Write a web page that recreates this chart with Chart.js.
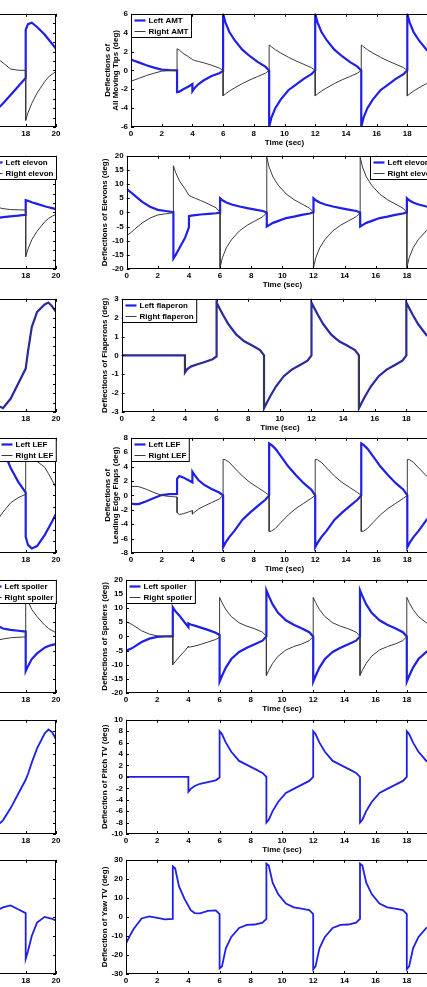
<!DOCTYPE html>
<html>
<head>
<meta charset="utf-8">
<script src="https://cdn.jsdelivr.net/npm/chart.js@4.4.1/dist/chart.umd.min.js"></script>
<style>
  html, body { margin: 0; padding: 0; background: #fff; }
  #fig { position: relative; width: 427px; height: 987px; overflow: hidden; background: #fff; }
  #fig canvas { position: absolute; }
</style>
</head>
<body>
<div id="fig"></div>
<script>
// sample times (s) for the right-hand column, jumps repeat the time
const tRight = [
  0, 0.25, 0.5, 1, 1.5, 2, 2.5, 3,
  3, 3.15, 3.4, 3.75, 4,
  4, 4.15, 4.4, 4.75, 5.25, 5.75, 6,
  6, 6.15, 6.4, 6.75, 7.25, 7.75, 8.25, 8.75, 9,
  9, 9.15, 9.4, 9.75, 10.25, 10.75, 11.25, 11.75, 12,
  12, 12.15, 12.4, 12.75, 13.25, 13.75, 14.25, 14.75, 15,
  15, 15.15, 15.4, 15.75, 16.25, 16.75, 17.25, 17.75, 18,
  18, 18.15, 18.4, 18.75, 19.25, 19.75, 20
];
// sample times for the (cropped) left-hand column
const tLeft = [15.5, 16, 16.5, 17, 17.5, 18, 18, 18.15, 18.4, 18.75, 19.25, 19.5, 19.75, 20];

// --- all moving tips
const amtLeft = [
  1.15, 1.0, 0.85, 0.55, 0.3, 0.08, 0.02, 0,
  -2.3, -2.25, -2.0, -1.7, -1.45,
  -2.2, -1.85, -1.45, -1.05, -0.6, -0.3, -0.05,
  6.0, 5.1, 4.1, 3.2, 2.2, 1.5, 0.9, 0.4, 0,
  -6.0, -5.0, -4.0, -3.1, -2.1, -1.5, -0.9, -0.4, 0,
  6.0, 5.1, 4.1, 3.2, 2.2, 1.5, 0.9, 0.4, 0,
  -6.0, -5.0, -4.0, -3.1, -2.1, -1.5, -0.9, -0.4, 0,
  6.0, 5.1, 4.1, 3.2, 2.2, 1.5, 1.1
];
const amtRight = [
  -1.15, -1.0, -0.85, -0.55, -0.3, -0.08, -0.02, 0,
  2.3, 2.15, 1.8, 1.45, 1.15,
  1.15, 1.05, 0.95, 0.8, 0.55, 0.25, 0,
  -2.7, -2.5, -2.2, -1.85, -1.4, -1.0, -0.65, -0.3, 0,
  2.7, 2.5, 2.2, 1.85, 1.4, 1.0, 0.65, 0.3, 0,
  -2.7, -2.5, -2.2, -1.85, -1.4, -1.0, -0.65, -0.3, 0,
  2.7, 2.5, 2.2, 1.85, 1.4, 1.0, 0.65, 0.3, 0,
  -2.7, -2.5, -2.2, -1.85, -1.4, -1.0, -0.8
];
const amtLeftB = [-5.0, -4.3, -3.5, -2.6, -1.7, -0.8, 4.3, 4.9, 5.05, 4.6, 3.8, 3.3, 2.8, 2.3];
const amtRightB = [2.0, 1.4, 0.8, 0.15, 0.02, 0, -5.3, -4.5, -3.5, -2.4, -1.2, -0.7, -0.4, -0.1];

// --- elevons
const elevLeft = [
  8.2, 7.2, 6.0, 3.7, 2.0, 0.9, 0.5, 0.1,
  -16.3, -15.0, -12.5, -9.0, -5.2,
  -1.3, -1.15, -0.95, -0.75, -0.5, -0.3, -0.1,
  5.0, 4.3, 3.5, 2.8, 2.1, 1.5, 1.0, 0.5, 0,
  -5.0, -4.5, -3.7, -3.0, -2.0, -1.5, -0.9, -0.4, 0,
  5.0, 4.3, 3.5, 2.8, 2.1, 1.5, 1.0, 0.5, 0,
  -5.0, -4.5, -3.7, -3.0, -2.0, -1.5, -0.9, -0.4, 0,
  5.0, 4.3, 3.5, 2.8, 2.1, 1.5, 1.2
];
const elevRight = [
  -8.2, -7.2, -6.0, -3.7, -2.0, -0.9, -0.5, -0.1,
  16.5, 14.0, 11.0, 8.3, 6.0,
  6.0, 5.6, 5.0, 4.2, 3.0, 1.6, 0,
  -19.5, -16.0, -12.5, -9.5, -6.5, -4.5, -3.0, -1.5, 0,
  19.5, 16.0, 12.5, 9.5, 6.5, 4.5, 3.0, 1.5, 0,
  -19.5, -16.0, -12.5, -9.5, -6.5, -4.5, -3.0, -1.5, 0,
  19.5, 16.0, 12.5, 9.5, 6.5, 4.5, 3.0, 1.5, 0,
  -19.5, -16.0, -12.5, -9.5, -6.5, -4.5, -3.5
];
const elevLeftB = [-1.4, -1.25, -1.0, -0.85, -0.7, -0.5, 2.6, 2.45, 2.15, 1.8, 1.3, 1.1, 0.9, 0.7];
const elevRightB = [1.6, 1.2, 0.8, 0.6, 0.55, 0.5, -9.4, -7.8, -5.8, -4.0, -2.0, -1.3, -0.8, -0.4];

// --- flaperons (left and right lie on top of each other)
const flapLeft = [
  0, 0, 0, 0, 0, 0, 0, 0,
  0, 0, 0, 0, 0,
  -0.9, -0.72, -0.58, -0.48, -0.35, -0.2, -0.05,
  2.8, 2.55, 2.15, 1.65, 1.1, 0.75, 0.52, 0.28, 0,
  -2.8, -2.55, -2.15, -1.65, -1.1, -0.75, -0.52, -0.28, 0,
  2.8, 2.55, 2.15, 1.65, 1.1, 0.75, 0.52, 0.28, 0,
  -2.8, -2.55, -2.15, -1.65, -1.1, -0.75, -0.52, -0.28, 0,
  2.8, 2.55, 2.15, 1.65, 1.1, 0.75, 0.52
];
const flapRight = [
  0, 0, 0, 0, 0, 0, 0, 0,
  0, 0, 0, 0, 0,
  -0.9, -0.72, -0.58, -0.48, -0.35, -0.2, -0.05,
  2.8, 2.55, 2.15, 1.65, 1.1, 0.75, 0.52, 0.28, 0,
  -2.8, -2.55, -2.15, -1.65, -1.1, -0.75, -0.52, -0.28, 0,
  2.8, 2.55, 2.15, 1.65, 1.1, 0.75, 0.52, 0.28, 0,
  -2.8, -2.55, -2.15, -1.65, -1.1, -0.75, -0.52, -0.28, 0,
  2.8, 2.55, 2.15, 1.65, 1.1, 0.75, 0.52
];
const flapLeftB = [-2.0, -2.6, -2.8, -2.3, -1.5, -0.7, -0.7, 0.2, 1.5, 2.3, 2.7, 2.8, 2.6, 2.3];
const flapRightB = [-2.0, -2.6, -2.8, -2.3, -1.5, -0.7, -0.7, 0.2, 1.5, 2.3, 2.7, 2.8, 2.6, 2.3];

// --- leading edge flaps
const lefLeft = [
  -1.15, -1.22, -1.2, -0.8, -0.35, 0.05, 0.18, 0.22,
  2.3, 2.7, 2.5, 2.1, 1.8,
  3.3, 2.8, 2.1, 1.5, 0.9, 0.4, 0.0,
  -7.2, -6.6, -5.8, -4.9, -3.4, -2.4, -1.5, -0.6, 0,
  7.2, 7.0, 6.5, 5.5, 4.0, 2.8, 1.7, 0.8, 0,
  -7.2, -6.6, -5.8, -4.9, -3.4, -2.4, -1.5, -0.6, 0,
  7.2, 7.0, 6.5, 5.5, 4.0, 2.8, 1.7, 0.8, 0,
  -7.2, -6.6, -5.8, -4.9, -3.4, -2.4, -1.9
];
const lefRight = [
  1.2, 1.25, 1.22, 0.85, 0.4, 0.0, -0.15, -0.22,
  -2.4, -2.65, -2.55, -2.3, -2.1,
  -2.6, -2.3, -1.9, -1.5, -1.0, -0.5, 0,
  5.0, 4.95, 4.6, 3.8, 2.7, 1.8, 1.1, 0.4, 0,
  -5.0, -4.95, -4.6, -3.8, -2.7, -1.8, -1.1, -0.4, 0,
  5.0, 4.95, 4.6, 3.8, 2.7, 1.8, 1.1, 0.4, 0,
  -5.0, -4.95, -4.6, -3.8, -2.7, -1.8, -1.1, -0.4, 0,
  5.0, 4.95, 4.6, 3.8, 2.7, 1.8, 1.3
];
const lefLeftB = [11, 9.8, 8.0, 4.8, 2.4, 0.5, -7.2, -8.6, -9.2, -8.8, -6.9, -5.7, -4.5, -3.2];
const lefRightB = [-6.5, -4.8, -2.9, -1.3, -0.4, 0.2, 6.2, 6.2, 6.1, 5.9, 4.9, 3.8, 2.6, 1.3];

// --- spoilers
const spoilLeft = [
  -5.0, -4.5, -3.8, -2.0, -0.8, -0.2, 0, 0,
  10.3, 9.0, 7.5, 5.0, 3.3,
  4.6, 4.2, 3.8, 3.2, 2.3, 1.3, 0.5,
  -16.0, -14.0, -11.0, -8.0, -5.5, -4.0, -2.8, -1.5, 0,
  16.3, 14.3, 11.3, 8.3, 5.7, 4.1, 2.9, 1.5, 0,
  -16.0, -14.0, -11.0, -8.0, -5.5, -4.0, -2.8, -1.5, 0,
  16.3, 14.3, 11.3, 8.3, 5.7, 4.1, 2.9, 1.5, 0,
  -16.0, -14.0, -11.0, -8.0, -5.5, -4.0, -3.3
];
const spoilRight = [
  5.2, 4.6, 3.8, 2.0, 0.8, 0.2, 0, 0,
  -10.0, -9.0, -7.3, -5.2, -3.5,
  -3.8, -3.7, -3.4, -2.9, -2.0, -1.1, -0.3,
  13.8, 12.0, 9.5, 7.0, 4.8, 3.6, 2.7, 1.5, 0,
  -13.8, -12.0, -9.5, -7.0, -4.8, -3.6, -2.7, -1.5, 0,
  13.8, 12.0, 9.5, 7.0, 4.8, 3.6, 2.7, 1.5, 0,
  -13.8, -12.0, -9.5, -7.0, -4.8, -3.6, -2.7, -1.5, 0,
  13.8, 12.0, 9.5, 7.0, 4.8, 3.6, 3.0
];
const spoilLeftB = [5.0, 4.2, 2.8, 2.3, 2.0, 1.7, -12.3, -10.5, -8.0, -6.0, -4.0, -3.4, -3.0, -2.7];
const spoilRightB = [-2.5, -1.5, -0.9, -0.5, -0.3, -0.2, 14.7, 12.5, 9.5, 7.0, 4.0, 2.8, 2.0, 1.3];

// --- pitch and yaw thrust vectoring
const pitchTV = [
  0, 0, 0, 0, 0, 0, 0, 0,
  0, 0, 0, 0, 0,
  -2.6, -2.1, -1.6, -1.2, -0.9, -0.6, -0.1,
  8.0, 7.5, 6.0, 4.4, 2.8, 2.1, 1.4, 0.7, 0,
  -8.0, -7.5, -6.0, -4.4, -2.8, -2.1, -1.4, -0.7, 0,
  8.0, 7.5, 6.0, 4.4, 2.8, 2.1, 1.4, 0.7, 0,
  -8.0, -7.5, -6.0, -4.4, -2.8, -2.1, -1.4, -0.7, 0,
  8.0, 7.5, 6.0, 4.4, 2.8, 2.1, 1.6
];
const yawTV = [
  -14.0, -9.8, -6.2, -0.8, 0.3, -0.5, -1.3, -1.0,
  26.5, 25.5, 16.0, 9.5, 5.8,
  5.8, 3.5, 2.0, 1.9, 3.2, 3.4, 1.5,
  -27.0, -26.0, -16.5, -10.5, -5.8, -4.2, -4.0, -3.0, -1.0,
  28.0, 27.0, 18.0, 12.0, 7.0, 5.0, 4.3, 3.6, 1.5,
  -27.5, -26.0, -16.5, -10.5, -5.8, -4.2, -4.0, -3.0, -1.0,
  28.0, 27.0, 18.0, 12.0, 7.0, 5.0, 4.3, 3.6, 1.5,
  -27.5, -26.0, -16.5, -10.5, -5.8, -4.2, -3.6
];
const pitchTVB = [-9.5, -8.8, -7.6, -5.5, -3.0, -0.5, -0.5, 0.5, 2.5, 5.0, 7.6, 8.3, 7.8, 6.6];
const yawTVB = [2, 3, 5, 6, 4, 2, -22, -18, -10, -3, 0, -0.5, -1, -2];

const FONT = { family: '"Liberation Sans", Arial, sans-serif', size: 8, weight: 'bold' };
const FONT_CSS = 'bold 8px "Liberation Sans", Arial, sans-serif';
const BLUE = '#1f1fe8';
const DARK = '#3a3a3a';

// box + inward tick marks, Matlab style
const boxTicks = {
  id: 'boxTicks',
  afterDatasetsDraw(chart) {
    const { ctx, chartArea: a, scales: { x, y } } = chart;
    const L = 3;
    ctx.save();
    ctx.strokeStyle = '#000';
    ctx.lineWidth = 1;
    ctx.beginPath();
    x.ticks.forEach(t => {
      const px = Math.round(x.getPixelForValue(t.value)) + 0.5;
      ctx.moveTo(px, a.bottom); ctx.lineTo(px, a.bottom - L);
      ctx.moveTo(px, a.top); ctx.lineTo(px, a.top + L);
    });
    y.ticks.forEach(t => {
      const py = Math.round(y.getPixelForValue(t.value)) + 0.5;
      ctx.moveTo(a.left, py); ctx.lineTo(a.left + L, py);
      ctx.moveTo(a.right, py); ctx.lineTo(a.right - L, py);
    });
    ctx.stroke();
    ctx.strokeRect(Math.round(a.left) + 0.5, Math.round(a.top) + 0.5,
      Math.round(a.right - a.left) - 1, Math.round(a.bottom - a.top) - 1);
    ctx.restore();
  }
};

// legend drawn inside the axes
const boxLegend = {
  id: 'boxLegend',
  afterDraw(chart, args, opts) {
    if (!opts || !opts.show) return;
    const { ctx, chartArea: a } = chart;
    const ds = chart.data.datasets;
    ctx.save();
    ctx.font = FONT_CSS;
    const textW = Math.max(...ds.map(d => ctx.measureText(d.label).width));
    const rowH = 11;
    const w = 17 + textW + 3;
    const h = ds.length * rowH + 1;
    const x0 = Math.round(opts.pos === 'tr' ? a.right - w : a.left) + 0.5;
    const y0 = Math.round(a.top) + 0.5;
    ctx.fillStyle = '#fff';
    ctx.fillRect(x0, y0, w, h);
    ctx.strokeStyle = '#000';
    ctx.lineWidth = 1;
    ctx.strokeRect(x0, y0, w, h);
    ctx.textBaseline = 'middle';
    ds.forEach((d, i) => {
      const cy = y0 + 6 + i * rowH;
      ctx.strokeStyle = d.borderColor;
      ctx.lineWidth = d.borderWidth;
      ctx.beginPath();
      ctx.moveTo(x0 + 3, cy); ctx.lineTo(x0 + 14, cy);
      ctx.stroke();
      ctx.fillStyle = '#000';
      ctx.fillText(d.label, x0 + 17, cy + 0.5);
    });
    ctx.restore();
  }
};

Chart.register(boxTicks, boxLegend);

const fig = document.getElementById('fig');

function panel(cfg) {
  const c = document.createElement('canvas');
  c.width = cfg.w; c.height = cfg.h;
  c.style.left = cfg.x + 'px'; c.style.top = cfg.y + 'px';
  c.style.width = cfg.w + 'px'; c.style.height = cfg.h + 'px';
  fig.appendChild(c);
  new Chart(c, {
    type: 'line',
    data: {
      datasets: cfg.lines.map(l => ({
        label: l.label,
        data: cfg.time.map((t, i) => ({ x: t, y: l.values[i] })),
        borderColor: l.color,
        borderWidth: l.width,
        pointRadius: 0,
        tension: 0,
        order: l.order
      }))
    },
    options: {
      responsive: false,
      animation: false,
      devicePixelRatio: 1,
      layout: { padding: { top: 6, right: cfg.padRight, left: 0, bottom: 0 } },
      plugins: {
        legend: { display: false },
        tooltip: { enabled: false },
        boxLegend: cfg.legend || { show: false }
      },
      scales: {
        x: {
          type: 'linear', min: 0, max: 20,
          grid: { display: false, drawTicks: false },
          border: { display: false },
          ticks: { stepSize: 2, font: FONT, color: '#000', padding: 2, maxRotation: 0, autoSkip: false },
          title: { display: true, text: 'Time (sec)', font: FONT, color: '#000', padding: { top: 0, bottom: 1 } },
          afterFit: s => { s.height = 22; }
        },
        y: {
          type: 'linear', min: cfg.yMin, max: cfg.yMax,
          grid: { display: false, drawTicks: false },
          border: { display: false },
          ticks: { stepSize: cfg.yStep, font: FONT, color: '#000', padding: 3, autoSkip: false },
          title: {
            display: !!cfg.yTitle, text: cfg.yTitle || '',
            font: Object.assign({}, FONT, { lineHeight: 1 }), color: '#000',
            padding: { top: cfg.titlePad || 3, bottom: 0 }
          },
          afterFit: s => { s.width = cfg.yWidth; }
        }
      }
    }
  });
}

function pair(leftLabel, rightLabel, leftVals, rightVals) {
  return [
    { label: leftLabel, values: leftVals, color: BLUE, width: 2.2, order: 1 },
    { label: rightLabel, values: rightVals, color: DARK, width: 1, order: 0 }
  ];
}

// row geometry: top / bottom of the axes box, left edge of right-hand axes
const rows = [
  { top: 12, bottom: 127, plotLeft: 131 },
  { top: 154, bottom: 269, plotLeft: 126.7 },
  { top: 297, bottom: 412, plotLeft: 121.7 },
  { top: 436, bottom: 553, plotLeft: 131 },
  { top: 578, bottom: 693, plotLeft: 126 },
  { top: 718, bottom: 834, plotLeft: 126 },
  { top: 858, bottom: 974, plotLeft: 126 }
];

const panels = [
  {
    y: [-6, 6, 2], title: ['Deflections of', 'All Moving Tips (deg)'], titlePad: 6,
    right: pair('Left AMT', 'Right AMT', amtLeft, amtRight), rightLegend: 'tl',
    yl: [-6, 6, 1], left: pair('Left AMT', 'Right AMT', amtLeftB, amtRightB)
  },
  {
    y: [-20, 20, 5], title: 'Deflections of Elevons (deg)',
    right: pair('Left elevon', 'Right elevon', elevLeft, elevRight), rightLegend: 'tr',
    yl: [-12, 12, 2], left: pair('Left elevon', 'Right elevon', elevLeftB, elevRightB), leftLegend: 'tr'
  },
  {
    y: [-3, 3, 1], title: 'Deflections of Flaperons (deg)',
    right: pair('Left flaperon', 'Right flaperon', flapLeft, flapRight), rightLegend: 'tl',
    yl: [-3, 3, 0.5], left: pair('Left flaperon', 'Right flaperon', flapLeftB, flapRightB)
  },
  {
    y: [-8, 8, 2], title: ['Deflections of', 'Leading Edge Flaps (deg)'], titlePad: 6,
    right: pair('Left LEF', 'Right LEF', lefLeft, lefRight), rightLegend: 'tl',
    yl: [-10, 10, 2], left: pair('Left LEF', 'Right LEF', lefLeftB, lefRightB), leftLegend: 'tr'
  },
  {
    y: [-20, 20, 5], title: 'Deflections of Spoilers (deg)',
    right: pair('Left spoiler', 'Right spoiler', spoilLeft, spoilRight), rightLegend: 'tl',
    yl: [-20, 20, 5], left: pair('Left spoiler', 'Right spoiler', spoilLeftB, spoilRightB), leftLegend: 'tr'
  },
  {
    y: [-10, 10, 2], title: 'Deflection of Pitch TV (deg)',
    right: [{ label: 'Pitch TV', values: pitchTV, color: BLUE, width: 1.8, order: 0 }],
    yl: [-10, 10, 2], left: [{ label: 'Pitch TV', values: pitchTVB, color: BLUE, width: 1.8, order: 0 }]
  },
  {
    y: [-30, 30, 10], title: 'Deflection of Yaw TV (deg)',
    right: [{ label: 'Yaw TV', values: yawTV, color: BLUE, width: 1.8, order: 0 }],
    yl: [-30, 30, 10], left: [{ label: 'Yaw TV', values: yawTVB, color: BLUE, width: 1.8, order: 0 }]
  }
];

const RIGHT_X = 98, RIGHT_EDGE = 438, RIGHT_CANVAS_END = 452;
const LEFT_PLOT_RIGHT = 56, LEFT_PLOT_W = 303, LEFT_YW = 33, LEFT_PAD = 12;

panels.forEach((p, i) => {
  const r = rows[i];
  const h = 6 + (r.bottom - r.top) + 22;
  // cropped left-hand axes
  panel({
    x: LEFT_PLOT_RIGHT - LEFT_PLOT_W - LEFT_YW, y: r.top - 6,
    w: LEFT_YW + LEFT_PLOT_W + LEFT_PAD, h,
    yWidth: LEFT_YW, padRight: LEFT_PAD,
    yMin: p.yl[0], yMax: p.yl[1], yStep: p.yl[2],
    time: tLeft, lines: p.left,
    legend: p.leftLegend ? { show: true, pos: p.leftLegend } : { show: false }
  });
  // right-hand axes
  panel({
    x: RIGHT_X, y: r.top - 6,
    w: RIGHT_CANVAS_END - RIGHT_X, h,
    yWidth: r.plotLeft - RIGHT_X, padRight: RIGHT_CANVAS_END - RIGHT_EDGE,
    yMin: p.y[0], yMax: p.y[1], yStep: p.y[2],
    yTitle: p.title, titlePad: p.titlePad,
    time: tRight, lines: p.right,
    legend: p.rightLegend ? { show: true, pos: p.rightLegend } : { show: false }
  });
});
</script>
</body>
</html>
